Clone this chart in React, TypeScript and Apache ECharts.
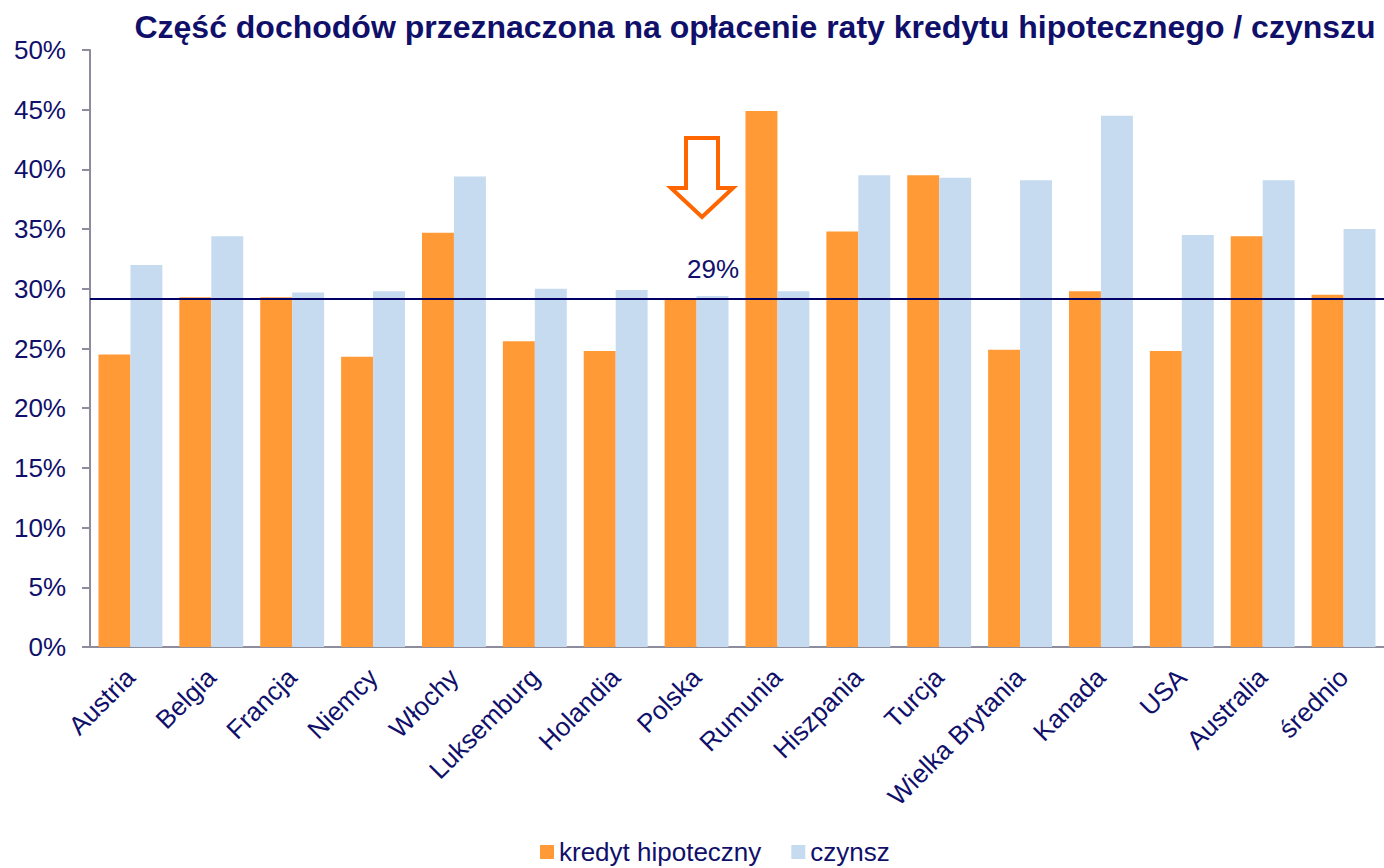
import React, { useEffect, useRef } from "react";
import * as echarts from "echarts";

const categories = [
  "Austria", "Belgia", "Francja", "Niemcy", "Włochy", "Luksemburg", "Holandia", "Polska",
  "Rumunia", "Hiszpania", "Turcja", "Wielka Brytania", "Kanada", "USA", "Australia", "średnio",
];
const kredyt = [24.5, 29.3, 29.3, 24.3, 34.7, 25.6, 24.8, 29.1, 44.9, 34.8, 39.5, 24.9, 29.8, 24.8, 34.4, 29.5];
const czynsz = [32.0, 34.4, 29.7, 29.8, 39.4, 30.0, 29.9, 29.4, 29.8, 39.5, 39.3, 39.1, 44.5, 34.5, 39.1, 35.0];
const referenceLevel = 29.2;
const referenceLabel = "29%";
const titleText = "Część dochodów przeznaczona na opłacenie raty kredytu hipotecznego / czynszu";
const seriesNames = ["kredyt hipoteczny", "czynsz"];

const NAVY = "#10106b";
const FONT = "'Liberation Sans', Arial, sans-serif";

export default function App() {
  const ref = useRef<HTMLDivElement>(null);
  useEffect(() => {
    document.body.style.margin = "0";
    const chart = echarts.init(ref.current!, null, { renderer: "svg" });
    chart.setOption({
      animation: false,
      textStyle: { fontFamily: FONT },
      title: {
        text: titleText,
        left: 750,
        textAlign: "center",
        top: 6,
        textStyle: { color: NAVY, fontSize: 32, fontWeight: "bold", fontFamily: FONT },
      },
      grid: { left: 90, top: 50, width: 1304, height: 597, containLabel: false },
      legend: {
        top: 834,
        left: 535,
        icon: "rect",
        itemWidth: 14,
        itemHeight: 14,
        itemGap: 30,
        textStyle: { color: NAVY, fontSize: 26, fontFamily: FONT },
        data: seriesNames,
      },
      xAxis: {
        type: "category",
        data: categories,
        axisLine: { lineStyle: { color: "#8c8c9c", width: 2 } },
        axisTick: { lineStyle: { color: "#8c8c9c", width: 2 }, length: 7 },
        axisLabel: {
          rotate: 45,
          color: NAVY,
          fontSize: 26,
          fontFamily: FONT,
          margin: 26,
          interval: 0,
        },
      },
      yAxis: {
        type: "value",
        min: 0,
        max: 50,
        interval: 5,
        axisLine: { show: true, lineStyle: { color: "#8c8c9c", width: 2 } },
        axisTick: { show: true, length: 8, lineStyle: { color: "#8c8c9c", width: 2 } },
        splitLine: { show: false },
        axisLabel: { formatter: "{value}%", color: NAVY, fontSize: 26, fontFamily: FONT, margin: 24 },
      },
      series: [
        {
          name: seriesNames[0],
          type: "bar",
          data: kredyt,
          barGap: "0%",
          barCategoryGap: "21%",
          itemStyle: { color: "#ff9a36" },
          markLine: {
            silent: true,
            symbol: "none",
            label: { show: false },
            lineStyle: { color: "#000066", width: 2, type: "solid" },
            data: [{ yAxis: referenceLevel }],
          },
          z: 2,
        },
        {
          name: seriesNames[1],
          type: "bar",
          data: czynsz,
          barGap: "0%",
          barCategoryGap: "21%",
          itemStyle: { color: "#c6dbef" },
          z: 2,
        },
      ],
      graphic: [
        {
          type: "polygon",
          shape: {
            points: [
              [686, 138], [718, 138], [718, 188], [733, 188], [702, 217], [671, 188], [686, 188],
            ],
          },
          style: { fill: "#ffffff", stroke: "#ff6600", lineWidth: 4 },
        },
        {
          type: "text",
          x: 687,
          y: 256,
          style: { text: referenceLabel, fill: NAVY, fontSize: 26, fontFamily: FONT },
        },
      ],
    });
    return () => chart.dispose();
  }, []);
  return <div ref={ref} style={{ width: 1384, height: 868 }} />;
}
